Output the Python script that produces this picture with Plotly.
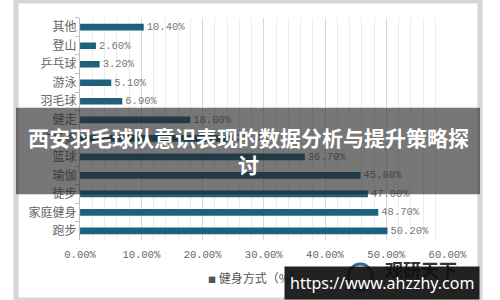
import plotly.graph_objects as go

categories = ['其他', '登山', '乒乓球', '游泳', '羽毛球', '健走', '广场舞', '篮球', '瑜伽', '徒步', '家庭健身', '跑步']
values = [10.4, 2.6, 3.2, 5.1, 6.9, 18.0, 25.0, 36.7, 45.8, 47.0, 48.7, 50.2]
value_labels = ['%.2f%%' % v for v in values]
x_ticks = [0, 10, 20, 30, 40, 50, 60]
x_tick_labels = ['%.2f%%' % t for t in x_ticks]
series_name = '健身方式（%）'
title_text = '西安羽毛球队意识表现的数据分析与提升策略探<br>讨'
watermark = 'https://www.ahzzhy.com'
logo_text = '观研天下'

W, H = 500, 300
def px(x):
    return x / W
def py(y):
    return 1 - y / H

fig = go.Figure()
fig.add_trace(go.Bar(
    y=categories, x=values, orientation='h',
    marker=dict(color='#1f607d', line=dict(width=0)),
    text=value_labels, textposition='outside', cliponaxis=False, constraintext='none',
    textfont=dict(family='Liberation Mono, Noto Sans CJK SC', size=10.5, color='#777777'),
    name=series_name, showlegend=False,
))

fig.update_layout(
    width=W, height=H, margin=dict(l=0, r=0, t=0, b=0),
    paper_bgcolor='white', plot_bgcolor='white',
    bargap=0.64,
    xaxis=dict(
        domain=[px(69), px(465)], range=[0, 60],
        tickvals=x_ticks, ticktext=x_tick_labels,
        tickfont=dict(family='Liberation Mono, Noto Sans CJK SC', size=10.5, color='#666666'),
        showgrid=True, gridcolor='#d9d9d9', gridwidth=1,
        minor=dict(dtick=2, showgrid=True, gridcolor='#ececec', gridwidth=1),
        zeroline=False, showline=False, ticks='', ticklabelstandoff=6,
    ),
    yaxis=dict(
        domain=[py(240), py(17)], autorange='reversed',
        tickfont=dict(family='Noto Sans CJK SC', size=12, color='#666666'),
        showline=True, linecolor='#bfbfbf', linewidth=1,
        ticks='outside', tickson='boundaries', ticklen=4, tickcolor='#bfbfbf',
        showgrid=False,
    ),
    font=dict(family='Noto Sans CJK SC'),
)

shapes = [
    # outer frame
    dict(type='rect', xref='paper', yref='paper', x0=0, x1=1, y0=0, y1=1,
         line=dict(color='#d6d6d6', width=5), fillcolor='rgba(0,0,0,0)', layer='above'),
    # title banner
    dict(type='rect', xref='paper', yref='paper', x0=0, x1=1, y0=py(194), y1=py(107),
         line=dict(width=0), fillcolor='rgba(35,35,35,0.62)', layer='above'),
    # logo swirl
    dict(type='circle', xref='paper', yref='paper', x0=px(358), x1=px(384), y0=py(290), y1=py(264),
         line=dict(color='#2a6f8f', width=3), fillcolor='rgba(0,0,0,0)', layer='above'),
]
fig.update_layout(shapes=shapes)

annotations = [
    dict(text='<span style="font-size:8px">■</span> ' + series_name, x=px(258), y=py(288),
         xref='paper', yref='paper', showarrow=False,
         font=dict(family='Noto Sans CJK SC', size=12, color='#555555')),
    dict(text='<b>' + logo_text + '</b>', x=px(395), y=py(284), xref='paper', yref='paper',
         xanchor='left', showarrow=False,
         font=dict(family='Noto Sans CJK SC', size=18, color='#333333')),
    dict(text='<b>' + title_text + '</b>', x=0.5, y=py(150), xref='paper', yref='paper',
         showarrow=False, align='center',
         font=dict(family='Noto Sans CJK SC', size=21, color='white')),
    dict(text=watermark, x=1, y=0, xref='paper', yref='paper', xanchor='right', yanchor='bottom',
         showarrow=False, bgcolor='rgba(15,15,15,0.92)', borderpad=5,
         font=dict(family='Noto Sans', size=16, color='white')),
]
fig.update_layout(annotations=annotations)

fig.write_html('out.html')
